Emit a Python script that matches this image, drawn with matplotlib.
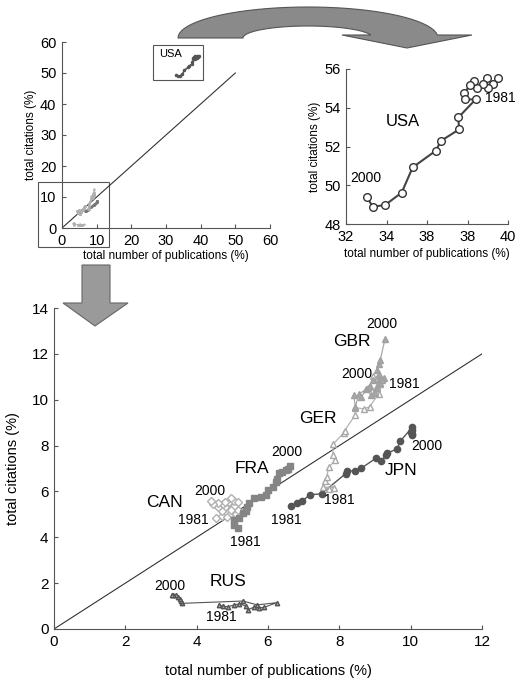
import numpy as np
import matplotlib
matplotlib.use("Agg")
import matplotlib.pyplot as plt
from matplotlib.patches import Polygon, Rectangle

plt.rcParams['font.family'] = ['Liberation Sans', 'DejaVu Sans']

# share of world publications (x) and citations (y), %, years 1981..2000
usa_pub = [39.50, 39.25, 39.00, 38.95, 38.75, 38.45, 38.30, 38.10, 37.85, 37.88,
           38.40, 37.55, 37.58, 36.69, 36.43, 35.29, 34.75, 33.93, 33.32, 33.02]
usa_cit = [55.55, 55.25, 55.00, 55.55, 55.25, 55.00, 55.40, 55.15, 54.75, 54.43,
           54.43, 53.50, 52.88, 52.29, 51.78, 50.92, 49.62, 48.98, 48.89, 49.41]

jpn_pub = [6.65, 6.80, 6.95, 7.17, 7.50, 8.18, 8.22, 8.43, 8.62, 9.03,
           9.18, 9.30, 9.35, 9.62, 9.70, 10.05, 10.05, 10.02, 10.05, 10.05]
jpn_cit = [5.35, 5.48, 5.57, 5.85, 5.90, 6.78, 6.88, 6.90, 7.02, 7.45,
           7.32, 7.58, 7.68, 7.85, 8.18, 8.80, 8.70, 8.60, 8.50, 8.45]

ger_pub = [7.70, 7.55, 7.85, 7.60, 7.65, 7.70, 7.88, 7.82, 7.82, 8.12,
           8.15, 8.45, 8.45, 8.70, 8.85, 9.10, 9.05, 9.15, 9.05, 8.95]
ger_cit = [6.10, 6.20, 6.15, 6.45, 6.65, 7.05, 7.35, 7.60, 8.05, 8.55,
           8.65, 9.35, 9.65, 9.60, 9.70, 10.25, 10.60, 10.70, 10.90, 11.05]

gbr_pub = [9.25, 9.15, 9.05, 8.90, 8.75, 8.55, 8.45, 8.40, 8.60, 8.80,
           8.95, 8.85, 9.00, 9.10, 9.20, 9.10, 9.05, 9.10, 9.15, 9.28]
gbr_cit = [10.95, 10.75, 10.50, 10.20, 10.45, 10.25, 9.70, 10.20, 10.10, 10.50,
           10.85, 10.60, 10.30, 10.90, 10.85, 11.10, 11.30, 11.55, 11.75, 12.65]

fra_pub = [5.15, 5.05, 5.05, 5.20, 5.30, 5.38, 5.42, 5.48, 5.60, 5.80,
           5.95, 6.00, 6.15, 6.22, 6.25, 6.30, 6.40, 6.50, 6.55, 6.62]
fra_cit = [4.40, 4.55, 4.75, 4.85, 5.05, 5.15, 5.30, 5.50, 5.70, 5.75,
           5.85, 6.05, 6.20, 6.40, 6.55, 6.80, 6.85, 6.95, 7.00, 7.10]

can_pub = [4.55, 4.70, 4.85, 4.95, 5.10, 5.15, 5.05, 4.95, 4.80, 4.70,
           4.60, 4.75, 4.90, 5.05, 5.15, 4.95, 4.80, 4.60, 4.45, 4.40]
can_cit = [4.85, 4.95, 4.90, 5.05, 5.00, 5.20, 5.35, 5.20, 5.30, 5.15,
           5.30, 5.45, 5.55, 5.60, 5.55, 5.70, 5.55, 5.50, 5.45, 5.60]

rus_pub = [4.62, 4.75, 4.88, 5.05, 5.20, 5.38, 5.45, 5.60, 5.75, 5.90,
           6.25, 5.70, 5.30, 3.60, 3.55, 3.52, 3.48, 3.42, 3.35, 3.30]
rus_cit = [1.05, 1.00, 0.97, 1.05, 1.10, 1.00, 0.85, 0.95, 0.92, 0.95,
           1.15, 1.05, 1.22, 1.12, 1.22, 1.30, 1.40, 1.50, 1.48, 1.50]

usa_ticks = [32, 34, 36, 38, 40]
usa_ticklabels = ['32', '34', '38', '38', '40']

W, H = 526, 683
fig = plt.figure(figsize=(W / 100, H / 100), dpi=100)

# marker styles per country
styles = {
    'JPN': dict(marker='o', color='#555555', mfc='#555555', mec='#555555', ms=4.5, lw=1.0),
    'GER': dict(marker='^', color='#b4b4b4', mfc='white', mec='#a8a8a8', ms=5, lw=0.9),
    'GBR': dict(marker='^', color='#a8a8a8', mfc='#a8a8a8', mec='#a0a0a0', ms=5, lw=0.9),
    'FRA': dict(marker='s', color='#858585', mfc='#858585', mec='#858585', ms=4.8, lw=0.9),
    'CAN': dict(marker='D', color='#b8b8b8', mfc='white', mec='#b0b0b0', ms=3.8, lw=0.8),
    'RUS': dict(marker='^', color='#555555', mfc='#a0a0a0', mec='#555555', ms=3.2, lw=0.8),
}
series = {
    'JPN': (jpn_pub, jpn_cit), 'GER': (ger_pub, ger_cit), 'GBR': (gbr_pub, gbr_cit),
    'FRA': (fra_pub, fra_cit), 'CAN': (can_pub, can_cit), 'RUS': (rus_pub, rus_cit),
}


def style_axes(ax, size):
    for s in ('top', 'right'):
        ax.spines[s].set_visible(False)
    for s in ('left', 'bottom'):
        ax.spines[s].set_color('#555555')
        ax.spines[s].set_linewidth(0.8)
    ax.tick_params(direction='in', length=3, width=0.8, color='#555555',
                   labelsize=size, pad=4)


# --- overview panel ---
ax1 = fig.add_axes([62 / W, 1 - 228 / H, 208 / W, 186 / H])
style_axes(ax1, 10.5)
ax1.plot([0, 50], [0, 50], color='#333333', lw=0.8)
for name, (x, y) in series.items():
    st = styles[name]
    ax1.plot(x, y, '-', marker=st['marker'], color='#b0b0b0' if name != 'JPN' else '#777777',
             ms=1.0, lw=0.6)
ax1.plot(usa_pub, usa_cit, '-', marker='o', color='#555555', ms=1.5, lw=1.2)
ax1.add_patch(Rectangle((26.3, 47.6), 14.5, 11.3, fill=False, lw=0.8,
                        ec='#555555', clip_on=False))
ax1.add_patch(Rectangle((-7, -6.1), 20.6, 21, fill=False, lw=0.8,
                        ec='#555555', clip_on=False))
ax1.text(31.2, 56, 'USA', fontsize=8, ha='center', va='center')
ax1.set_xlim(0, 60)
ax1.set_ylim(0, 60)
ax1.set_xticks(range(0, 61, 10))
ax1.set_yticks(range(0, 61, 10))
ax1.set_xlabel('total number of publications (%)', fontsize=8.5, labelpad=2)
ax1.set_ylabel('total citations (%)', fontsize=8.5, labelpad=2)

# --- USA panel ---
ax2 = fig.add_axes([346 / W, 1 - 224 / H, 162 / W, 155 / H])
style_axes(ax2, 10.5)
ax2.plot(usa_pub, usa_cit, '-', marker='o', color='#444444', mfc='white',
         mec='#333333', ms=5.5, lw=1.5)
ax2.set_xlim(32, 40)
ax2.set_ylim(48, 56)
ax2.set_xticks(usa_ticks)
ax2.set_xticklabels(usa_ticklabels)
ax2.set_yticks(range(48, 57, 2))
ax2.text(34.8, 53.3, 'USA', fontsize=12, ha='center', va='center')
ax2.text(33.0, 50.4, '2000', fontsize=10, ha='center', va='center')
ax2.text(39.6, 54.5, '1981', fontsize=10, ha='center', va='center')
ax2.set_xlabel('total number of publications (%)', fontsize=8.5, labelpad=3)
ax2.set_ylabel('total citations (%)', fontsize=8.5, labelpad=2)

# --- detail panel ---
ax3 = fig.add_axes([54 / W, 1 - 629 / H, 428 / W, 321 / H])
style_axes(ax3, 11)
ax3.plot([0, 12], [0, 12], color='#333333', lw=0.8)
for name in ['RUS', 'CAN', 'FRA', 'JPN', 'GER', 'GBR']:
    x, y = series[name]
    ax3.plot(x, y, '-', **styles[name])
ax3.set_xlim(0, 12)
ax3.set_ylim(0, 14)
ax3.set_xticks(range(0, 13, 2))
ax3.set_yticks(range(0, 15, 2))
ax3.set_xlabel('total number of publications (%)', fontsize=10.5, labelpad=11)
ax3.set_ylabel('total citations (%)', fontsize=10.5, labelpad=8)

labels = [
    ('GBR', 8.34, 12.53, 12.5), ('2000', 9.18, 13.29, 10), ('2000', 8.48, 11.12, 10),
    ('1981', 9.83, 10.68, 10), ('GER', 7.40, 9.16, 12.5), ('FRA', 5.54, 6.99, 12.5),
    ('2000', 6.52, 7.71, 10), ('1981', 5.35, 3.80, 10), ('CAN', 3.11, 5.52, 12.5),
    ('2000', 4.37, 6.04, 10), ('1981', 3.90, 4.74, 10), ('1981', 6.52, 4.74, 10),
    ('1981', 8.01, 5.61, 10), ('JPN', 9.74, 6.91, 12.5), ('2000', 10.44, 8.00, 10),
    ('RUS', 4.88, 2.06, 12.5), ('2000', 3.25, 1.87, 10), ('1981', 4.70, 0.51, 10),
]
for txt, x, y, fs in labels:
    ax3.text(x, y, txt, fontsize=fs, ha='center', va='center')


# --- decorative block arrows (figure pixel coords) ---
def to_fig(pts):
    return [(px / W, 1 - py / H) for px, py in pts]


t = np.linspace(np.pi, np.arcsin(3 / 31), 40)
outer = [(308 + 130 * np.cos(a), 38 - 31 * np.sin(a)) for a in t]
t2 = np.linspace(np.arcsin(3 / 12), np.pi, 30)
inner = [(308 + 65 * np.cos(a), 38 - 12 * np.sin(a)) for a in t2]
head = [(472, 35), (407, 48), (342, 35)]
curved = outer + head + inner
fig.add_artist(Polygon(to_fig(curved), closed=True, transform=fig.transFigure,
                       fc='#8a8a8a', ec='#555555', lw=0.8))

down = [(82, 265), (110, 265), (110, 303), (128, 303), (95, 326), (63, 303), (82, 303)]
fig.add_artist(Polygon(to_fig(down), closed=True, transform=fig.transFigure,
                       fc='#9a9a9a', ec='#666666', lw=0.8))

fig.savefig('out.png', dpi=100)
